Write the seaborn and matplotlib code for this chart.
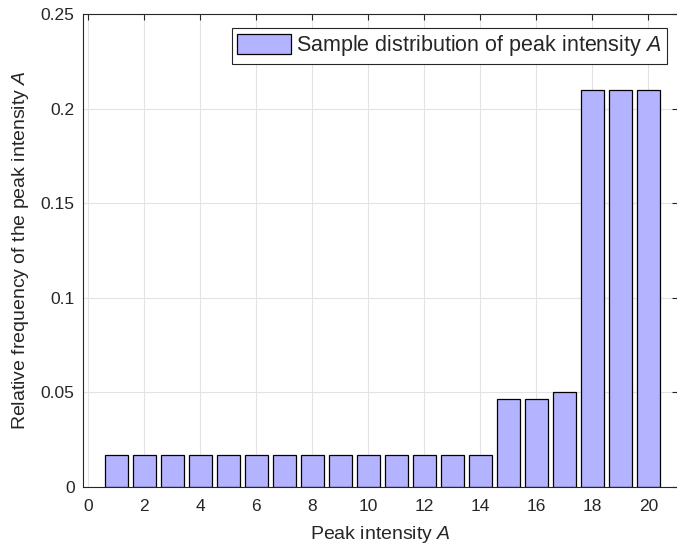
import matplotlib
matplotlib.use("Agg")
import matplotlib.pyplot as plt
import seaborn as sns
import pandas as pd
from matplotlib.ticker import FixedLocator, FuncFormatter

# ---- data ----
intensity = list(range(1, 21))
rel_freq = [0.0167] * 14 + [0.0467, 0.0467, 0.05, 0.21, 0.21, 0.21]
x_ticks = [0, 2, 4, 6, 8, 10, 12, 14, 16, 18, 20]
y_ticks = [0, 0.05, 0.1, 0.15, 0.2, 0.25]
legend_label = r"Sample distribution of peak intensity $\mathit{A}$"
xlabel = r"Peak intensity $\mathit{A}$"
ylabel = r"Relative frequency of the peak intensity $\mathit{A}$"

df = pd.DataFrame({"intensity": intensity, "freq": rel_freq})

sns.set_theme(style="white")
plt.rcParams["font.family"] = ["Liberation Sans", "DejaVu Sans"]
plt.rcParams["mathtext.fontset"] = "custom"
plt.rcParams["mathtext.rm"] = "Liberation Sans"
plt.rcParams["mathtext.it"] = "Liberation Sans:italic"
plt.rcParams["text.color"] = "#262626"
plt.rcParams["axes.labelcolor"] = "#262626"

W, H = 677, 549
fig = plt.figure(figsize=(W / 100, H / 100), dpi=100)
left, right, top, bottom = 82.7, 677.8, 14, 487
ax = fig.add_axes([left / W, 1 - bottom / H, (right - left) / W, (bottom - top) / H])

sns.barplot(data=df, x="intensity", y="freq", native_scale=True, width=0.8,
            color="#B3B3FF", saturation=1, edgecolor="black", linewidth=0.9,
            label=legend_label, ax=ax)

ax.set_xlim(-0.2, 21.05)
ax.set_ylim(0, 0.25)
ax.xaxis.set_major_locator(FixedLocator(x_ticks))
ax.yaxis.set_major_locator(FixedLocator(y_ticks))
ax.yaxis.set_major_formatter(FuncFormatter(lambda v, p: f"{v:g}"))
ax.xaxis.set_major_formatter(FuncFormatter(lambda v, p: f"{v:g}"))

ax.set_axisbelow(True)
ax.grid(True, color="#E3E3E3", linewidth=0.8)
for s in ax.spines.values():
    s.set_color("#262626")
    s.set_linewidth(0.8)
ax.tick_params(direction="in", length=4, width=0.8, colors="#262626",
               top=True, right=True, labelsize=12.5)
ax.tick_params(axis="x", pad=8.5)
ax.tick_params(axis="y", pad=5.8)

ax.set_xlabel(xlabel, fontsize=14, labelpad=7)
ax.set_ylabel(ylabel, fontsize=14, labelpad=7)

leg = ax.legend(loc="upper right", bbox_to_anchor=(667 / W, 1 - 28 / H),
                bbox_transform=fig.transFigure, fancybox=False, framealpha=1,
                edgecolor="#262626", fontsize=15.5, handlelength=2.5,
                handleheight=1.0, handletextpad=0.25, borderpad=0.25,
                borderaxespad=0)
leg.get_frame().set_linewidth(0.8)

fig.savefig("out.png", dpi=100)
